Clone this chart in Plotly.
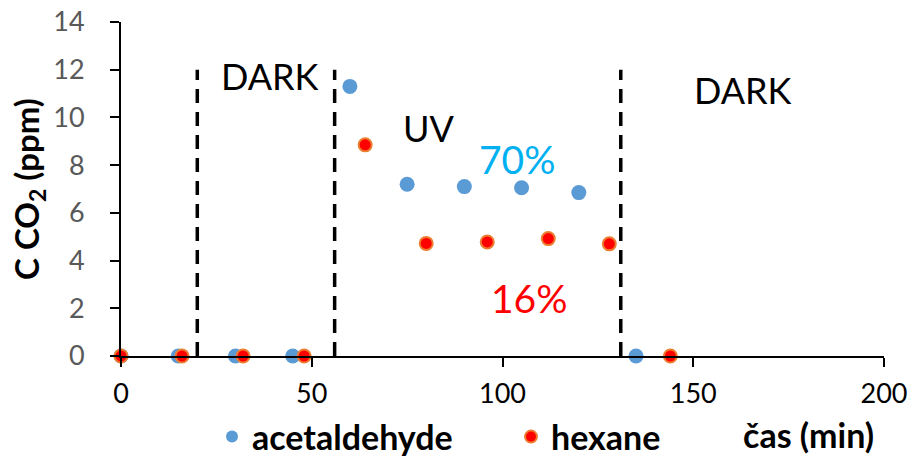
import plotly.graph_objects as go

# Data
acet_t = [0, 15, 30, 45, 60, 75, 90, 105, 120, 135]
acet_c = [0, 0, 0, 0, 11.3, 7.2, 7.1, 7.05, 6.85, 0]
hex_t = [0, 16, 32, 48, 64, 80, 96, 112, 128, 144]
hex_c = [0, 0, 0, 0, 8.85, 4.72, 4.78, 4.92, 4.7, 0]
divider_t = [20, 56, 131]
divider_top = 12
x_ticks = [0, 50, 100, 150, 200]
y_ticks = [0, 2, 4, 6, 8, 10, 12, 14]

FONT = "Lato"
L, R, T, B = 121, 30, 22, 105
W, H = 914, 461
PW, PH = W - L - R, H - T - B


def px_x(p):
    return (p - L) / PW


def px_y(p):
    return (H - B - p) / PH


fig = go.Figure()

for t in divider_t:
    fig.add_trace(go.Scatter(x=[t, t], y=[0, divider_top], mode="lines",
                             line=dict(color="black", width=3.5, dash="14px,9px"),
                             showlegend=False, hoverinfo="skip"))

fig.add_trace(go.Scatter(x=acet_t, y=acet_c, mode="markers", name="acetaldehyde",
                         marker=dict(color="#5B9BD5", size=15, line=dict(width=0)),
                         cliponaxis=False, legend="legend"))
fig.add_trace(go.Scatter(x=hex_t, y=hex_c, mode="markers", name="hexane",
                         marker=dict(color="#FF0000", size=13, line=dict(color="#ED7D31", width=2)),
                         cliponaxis=False, legend="legend2"))

annots = [
    dict(x=39, y=11.75, text="DARK", font=dict(size=36, color="black")),
    dict(x=80.5, y=9.55, text="UV", font=dict(size=36, color="black")),
    dict(x=104, y=8.25, text="70%", font=dict(size=39, color="#00B0F0")),
    dict(x=107, y=2.45, text="16%", font=dict(size=39, color="#FF0000")),
    dict(x=163, y=11.15, text="DARK", font=dict(size=36, color="black")),
]
for a in annots:
    fig.add_annotation(xref="x", yref="y", showarrow=False, font_family=FONT, **a)

fig.add_annotation(xref="paper", yref="paper", x=px_x(808), y=px_y(434),
                   xanchor="center", yanchor="middle",
                   text="<b>čas (min)</b>", showarrow=False,
                   font=dict(family=FONT, size=34, color="black"))

fig.update_xaxes(range=[0, 200], tickvals=x_ticks, showgrid=False, zeroline=False,
                 showline=True, linecolor="black", linewidth=2,
                 ticks="outside", ticklen=9, tickwidth=2, tickcolor="black",
                 ticklabelstandoff=4,
                 tickfont=dict(family=FONT, size=27, color="black"))
fig.update_yaxes(range=[0, 14], tickvals=y_ticks, showgrid=False, zeroline=False,
                 showline=True, linecolor="black", linewidth=2,
                 ticks="outside", ticklen=9, tickwidth=2, tickcolor="black",
                 ticklabelstandoff=20,
                 tickfont=dict(family=FONT, size=27, color="#595959"),
                 title=dict(text="<b>C CO<sub>2</sub> (ppm)</b>",
                            font=dict(family=FONT, size=33, color="black"), standoff=4))

leg_common = dict(orientation="h", xanchor="left", yanchor="middle",
                  font=dict(family=FONT, size=34, color="black", weight="bold"),
                  itemsizing="constant", bgcolor="rgba(0,0,0,0)", itemwidth=30)

fig.update_layout(
    width=W, height=H,
    margin=dict(l=L, r=R, t=T, b=B, autoexpand=False),
    plot_bgcolor="white", paper_bgcolor="white",
    font=dict(family=FONT),
    legend=dict(x=px_x(212), y=px_y(437), **leg_common),
    legend2=dict(x=px_x(511), y=px_y(437), **leg_common),
)

fig.write_html("out.html")
